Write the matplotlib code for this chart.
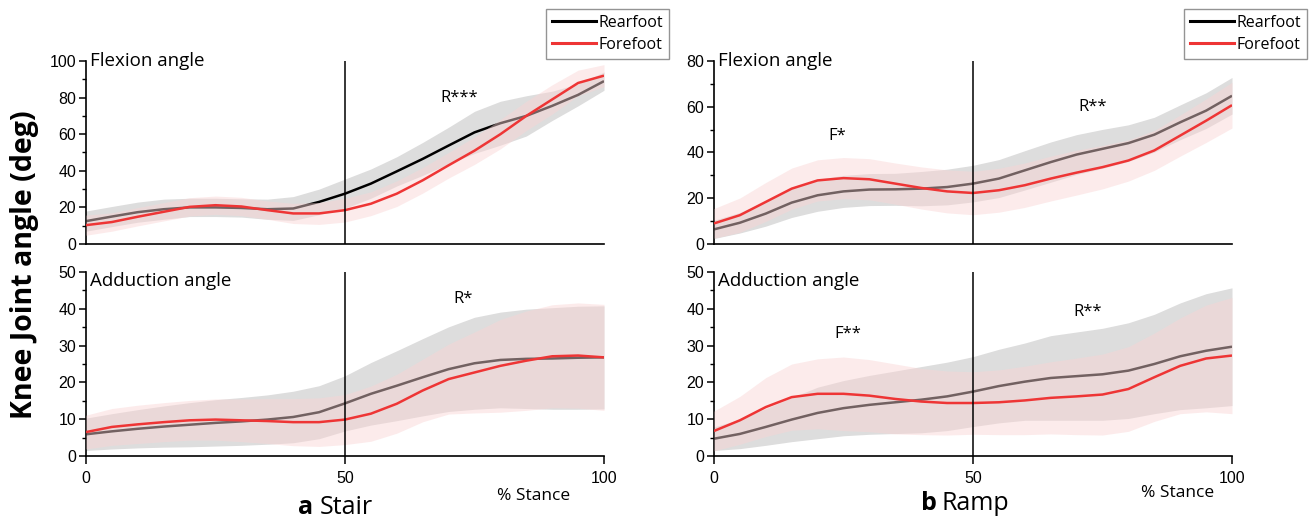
import matplotlib
matplotlib.use("Agg")
import matplotlib.pyplot as plt
import numpy as np
from matplotlib.ticker import MultipleLocator
from matplotlib.lines import Line2D

# ---------------- data ----------------
stance = [0, 5, 10, 15, 20, 25, 30, 35, 40, 45, 50, 55, 60, 65, 70, 75, 80, 85, 90, 95, 100]

stair_flex_rear = [12.5, 15.0, 17.4, 19.0, 20.0, 20.0, 19.7, 19.0, 19.4, 23.0, 27.5, 33.0, 39.7, 46.5, 53.8, 61.0, 66.0, 70.0, 75.5, 81.5, 89.0]
stair_flex_rear_sd = [5.5, 5.5, 5.5, 5.5, 5.0, 5.0, 5.0, 5.5, 6.5, 7.0, 8.0, 8.0, 8.0, 9.0, 10.0, 11.5, 12.0, 11.0, 8.0, 6.0, 5.0]
stair_flex_fore = [10.3, 12.0, 14.9, 17.6, 20.3, 21.2, 20.5, 18.5, 16.7, 16.7, 18.5, 22.0, 27.5, 34.8, 43.0, 51.0, 60.0, 70.0, 79.0, 88.0, 92.0]
stair_flex_fore_sd = [5.5, 5.0, 5.0, 5.0, 5.0, 5.0, 5.0, 5.0, 5.5, 6.0, 6.5, 6.5, 7.0, 7.0, 7.0, 7.5, 8.0, 8.0, 8.0, 7.0, 6.0]

stair_add_rear = [5.9, 6.7, 7.4, 8.0, 8.5, 9.0, 9.4, 9.9, 10.6, 11.9, 14.3, 16.9, 19.1, 21.4, 23.6, 25.2, 26.1, 26.4, 26.5, 26.7, 26.8]
stair_add_rear_sd = [4.4, 4.8, 5.2, 5.6, 6.0, 6.3, 6.5, 6.7, 7.0, 7.2, 7.5, 8.5, 9.5, 10.5, 11.5, 12.5, 13.0, 13.5, 13.8, 14.0, 14.0]
stair_add_fore = [6.5, 7.9, 8.6, 9.2, 9.7, 9.9, 9.7, 9.5, 9.2, 9.2, 9.9, 11.5, 14.2, 17.8, 20.9, 22.7, 24.5, 25.9, 27.1, 27.3, 26.8]
stair_add_fore_sd = [4.6, 5.0, 5.2, 5.3, 5.4, 5.6, 5.8, 6.1, 6.4, 6.6, 6.8, 7.5, 8.0, 8.5, 9.5, 11.0, 12.6, 13.5, 14.0, 14.3, 14.4]

ramp_flex_rear = [6.4, 9.3, 13.3, 18.1, 21.3, 23.0, 23.8, 23.9, 24.2, 24.9, 26.4, 28.6, 32.2, 35.8, 39.1, 41.6, 44.1, 47.8, 53.2, 58.3, 64.8]
ramp_flex_rear_sd = [4.0, 4.5, 5.5, 6.5, 7.0, 7.0, 7.0, 7.0, 7.5, 7.8, 8.0, 8.3, 8.6, 8.8, 8.7, 8.5, 8.0, 7.6, 7.6, 7.8, 8.0]
ramp_flex_fore = [9.0, 12.6, 18.4, 24.2, 27.8, 28.8, 28.3, 26.4, 24.5, 23.0, 22.3, 23.5, 25.7, 28.6, 31.2, 33.6, 36.5, 40.9, 47.4, 53.9, 60.7]
ramp_flex_fore_sd = [6.5, 7.5, 8.5, 9.0, 9.0, 9.0, 9.0, 9.0, 9.2, 9.4, 9.5, 9.6, 9.7, 9.8, 9.8, 9.5, 9.0, 8.7, 9.0, 9.5, 10.0]

ramp_add_rear = [4.7, 6.0, 7.9, 9.9, 11.7, 13.0, 13.9, 14.6, 15.3, 16.2, 17.5, 19.0, 20.2, 21.2, 21.7, 22.2, 23.2, 25.0, 27.1, 28.6, 29.7]
ramp_add_rear_sd = [3.2, 4.0, 5.0, 6.0, 7.0, 7.5, 8.0, 8.5, 9.0, 9.3, 9.5, 10.0, 10.5, 11.5, 12.0, 12.5, 13.0, 13.5, 14.5, 15.5, 16.0]
ramp_add_fore = [6.8, 9.7, 13.3, 16.0, 16.9, 16.9, 16.4, 15.5, 14.8, 14.4, 14.4, 14.6, 15.1, 15.8, 16.2, 16.7, 18.2, 21.4, 24.5, 26.5, 27.3]
ramp_add_fore_sd = [5.4, 6.5, 8.0, 9.0, 9.5, 10.0, 9.8, 9.5, 9.0, 8.7, 8.5, 8.8, 9.3, 9.8, 10.4, 11.0, 11.5, 12.0, 13.0, 14.5, 15.8]

panel_titles = ["Flexion angle", "Adduction angle"]
legend_labels = ["Rearfoot", "Forefoot"]
x_ticks = [0, 50, 100]

# ---------------- style ----------------
W, H = 1309, 522
fig = plt.figure(figsize=(W / 100, H / 100), dpi=100)

TXT = ["Open Sans", "DejaVu Sans"]
NUM = ["Liberation Sans", "DejaVu Sans"]
GRAY = (0.865, 0.865, 0.865)
PINK = (0.98, 0.83, 0.83)
PINK_A = 0.46
RED = "#ee3535"


def fx(px):
    return px / W


def fy(py):
    return 1 - py / H


def make_ax(x0, x1, ytop, ybot):
    return fig.add_axes([fx(x0), fy(ybot), fx(x1) - fx(x0), (ybot - ytop) / H])


def draw(ax, rear, rear_sd, fore, fore_sd, ymax, major, minor, title, notes, bottom, title_dy):
    x = np.array(stance, float)
    r = np.array(rear); rs = np.array(rear_sd)
    f = np.array(fore); fs = np.array(fore_sd)
    ax.fill_between(x, r - rs, r + rs, color=GRAY, lw=0, zorder=1)
    ax.plot(x, r, color="black", lw=1.8, zorder=2, solid_capstyle="butt")
    ax.fill_between(x, f - fs, f + fs, color=PINK, alpha=PINK_A, lw=0, zorder=3)
    ax.plot(x, f, color=RED, lw=1.8, zorder=4, solid_capstyle="butt")
    ax.axvline(50, color="black", lw=1.1, zorder=5)
    ax.set_xlim(0, 100)
    ax.set_ylim(0, ymax)
    for s in ("top", "right"):
        ax.spines[s].set_visible(False)
    for s in ("left", "bottom"):
        ax.spines[s].set_linewidth(1.2)
    ax.yaxis.set_major_locator(MultipleLocator(major))
    ax.yaxis.set_minor_locator(MultipleLocator(minor))
    ax.tick_params(axis="y", which="major", direction="out", length=5, width=1.1,
                   labelsize=11.5, pad=2)
    ax.tick_params(axis="y", which="minor", direction="out", length=3, width=1.0)
    for lab in ax.get_yticklabels():
        lab.set_fontfamily(NUM)
    if bottom:
        ax.set_xticks(x_ticks)
        ax.tick_params(axis="x", which="major", direction="out", length=6, width=1.1,
                       labelsize=11.5, pad=5)
        for lab in ax.get_xticklabels():
            lab.set_fontfamily(NUM)
    else:
        ax.set_xticks([])
    ax.text(0.008, 1.0 - title_dy, title, transform=ax.transAxes, ha="left", va="center",
            fontsize=13.5, family=TXT, zorder=6)
    for (nx, ny, s) in notes:
        ax.text(nx, ny, s, ha="center", va="center", fontsize=12, family=TXT, zorder=6)


axA1 = make_ax(86, 604, 61, 244)
axA2 = make_ax(86, 604, 272, 456)
axB1 = make_ax(714, 1232, 61, 244)
axB2 = make_ax(714, 1232, 272, 456)

draw(axA1, stair_flex_rear, stair_flex_rear_sd, stair_flex_fore, stair_flex_fore_sd,
     100, 20, 10, panel_titles[0], [(72.0, 80.0, "R***")], False, 0.0)
draw(axA2, stair_add_rear, stair_add_rear_sd, stair_add_fore, stair_add_fore_sd,
     50, 10, 5, panel_titles[1], [(72.8, 42.6, "R*")], True, 0.05)
draw(axB1, ramp_flex_rear, ramp_flex_rear_sd, ramp_flex_fore, ramp_flex_fore_sd,
     80, 20, 10, panel_titles[0], [(23.8, 47.4, "F*"), (73.0, 59.7, "R**")], False, 0.0)
draw(axB2, ramp_add_rear, ramp_add_rear_sd, ramp_add_fore, ramp_add_fore_sd,
     50, 10, 5, panel_titles[1], [(25.8, 33.1, "F**"), (72.2, 39.2, "R**")], True, 0.05)

# legends
handles = [Line2D([], [], color="black", lw=2.2), Line2D([], [], color=RED, lw=2.2)]
for right_px in (669, 1307):
    leg = fig.legend(handles, legend_labels, loc="upper right",
                     bbox_to_anchor=(fx(right_px), fy(9)),
                     prop={"family": TXT, "size": 11.5}, frameon=True, fancybox=False,
                     handlelength=2.8, handletextpad=0.15, borderpad=0.35,
                     labelspacing=0.4, borderaxespad=0.0)
    leg.get_frame().set_edgecolor("#7a7a7a")
    leg.get_frame().set_linewidth(1.0)

# figure labels
fig.text(fx(25), fy(265), "Knee Joint angle (deg)", rotation=90, ha="center", va="center",
         fontsize=20.5, fontweight="bold", family=TXT)
fig.text(fx(298), fy(507), "a", ha="left", va="center", fontsize=18, fontweight="bold", family=TXT)
fig.text(fx(320), fy(507), "Stair", ha="left", va="center", fontsize=18, family=TXT)
fig.text(fx(921), fy(504), "b", ha="left", va="center", fontsize=18, fontweight="bold", family=TXT)
fig.text(fx(941), fy(504), "Ramp", ha="left", va="center", fontsize=18, family=TXT)
fig.text(fx(534), fy(496), "% Stance", ha="center", va="center", fontsize=12.5, family=TXT)
fig.text(fx(1178), fy(493), "% Stance", ha="center", va="center", fontsize=12.5, family=TXT)

fig.savefig("out.png", dpi=100)
